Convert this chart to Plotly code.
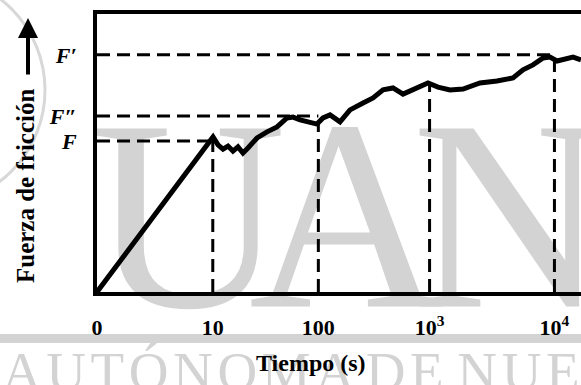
import numpy as np
import plotly.graph_objects as go

# ---- data (x in decades of time, y in arbitrary force units) ----
time_dec = [0, 1.022, 1.066, 1.110, 1.154, 1.198, 1.242, 1.286, 1.330, 1.410,
            1.498, 1.586, 1.674, 1.727, 1.789, 1.877, 1.938, 1.991, 2.053, 2.141,
            2.229, 2.344, 2.432, 2.520, 2.608, 2.696, 2.784, 2.916, 3.004, 3.110,
            3.225, 3.374, 3.524, 3.665, 3.753, 3.841, 3.930, 3.991, 4.053, 4.141,
            4.194, 4.264]
force = [0, 55.8, 52.9, 51.4, 52.5, 50.7, 52.2, 50.0, 51.8, 55.4,
         57.6, 59.4, 62.6, 62.9, 61.9, 61.2, 60.4, 62.6, 63.7, 61.2,
         65.5, 68.0, 69.8, 72.7, 73.4, 71.2, 73.0, 75.2, 73.7, 72.7,
         73.0, 75.2, 75.9, 77.0, 79.9, 81.7, 84.2, 84.5, 83.1, 84.2,
         84.5, 83.5]

tick_pos = [0, 1.02, 1.95, 2.93, 4.03]
tick_labels = ["0", "10", "100", "10<sup>3</sup>", "10<sup>4</sup>"]

F_levels = [54.3, 63.3, 85.3]
F_labels = ["F", "F″", "F′"]
F_level_end_tick = [1, 2, 4]  # index of time tick where each level line ends

W, H = 581, 385
ML, MR, MT, MB = 97, 0, 14, 93
PW, PH = W - ML - MR, H - MT - MB
SERIF = "Liberation Serif"
GRAY = "#d3d3d3"


def px2x(px):
    return (px - ML) / PW


def py2y(py):
    return (H - MB - py) / PH


fig = go.Figure()

dash = "13px,7px"
# horizontal dashed level lines
for lvl, k in zip(F_levels, F_level_end_tick):
    fig.add_trace(go.Scatter(x=[0, tick_pos[k]], y=[lvl, lvl], mode="lines",
                             line=dict(color="black", width=3, dash=dash),
                             hoverinfo="skip", showlegend=False))
# vertical dashed lines at each time tick
for tp in tick_pos[1:]:
    top = float(np.interp(tp, time_dec, force))
    fig.add_trace(go.Scatter(x=[tp, tp], y=[0, top], mode="lines",
                             line=dict(color="black", width=3, dash=dash),
                             hoverinfo="skip", showlegend=False))

# main curve
fig.add_trace(go.Scatter(x=time_dec, y=force, mode="lines",
                         line=dict(color="black", width=5),
                         showlegend=False))

shapes = []
# faint seal arc at top-left
shapes.append(dict(type="circle", xref="paper", yref="paper",
                   x0=px2x(-185), x1=px2x(45), y0=py2y(205), y1=py2y(-25),
                   line=dict(width=3, color="#d8d8d8"), fillcolor="rgba(0,0,0,0)",
                   layer="below"))
# watermark letters (below traces)
for letter, cx in [("U", 188), ("A", 347), ("N", 510)]:
    xc, yc = px2x(cx), py2y(185)
    shapes.append(dict(type="rect", xref="paper", yref="paper",
                       x0=xc - 0.01, x1=xc + 0.01, y0=yc - 0.01, y1=yc + 0.01,
                       line=dict(width=0), fillcolor="rgba(0,0,0,0)", layer="below",
                       label=dict(text=letter, textposition="middle center",
                                  font=dict(family=SERIF, size=272, color=GRAY))))
# gray band
shapes.append(dict(type="rect", xref="paper", yref="paper",
                   x0=px2x(0), x1=px2x(W), y0=py2y(343), y1=py2y(334),
                   line=dict(width=0), fillcolor=GRAY, layer="below"))

annotations = []
hs = "\u200a"
wm_text = " ".join(hs.join(w) for w in ["AUTÓNOMA", "DE", "NUEVO", "LEÓN"])
annotations.append(dict(text=wm_text, xref="paper", yref="paper",
                        x=px2x(0), y=py2y(339), xanchor="left", yanchor="top",
                        showarrow=False,
                        font=dict(family=SERIF, size=55, color=GRAY)))
# axis titles
annotations.append(dict(text="<b>Fuerza de fricción</b>", xref="paper", yref="paper",
                        x=px2x(26), y=py2y(186), textangle=-90,
                        xanchor="center", yanchor="middle", showarrow=False,
                        font=dict(family=SERIF, size=25, color="black")))
annotations.append(dict(text="", xref="paper", yref="paper",
                        x=px2x(28), y=py2y(18), ax=0, ay=58,
                        showarrow=True, arrowhead=2, arrowsize=1, arrowwidth=4,
                        arrowcolor="black"))
annotations.append(dict(text="<b>Tiempo (s)</b>", xref="paper", yref="paper",
                        x=px2x(311), y=py2y(363), xanchor="center", yanchor="middle",
                        showarrow=False,
                        font=dict(family=SERIF, size=24, color="black")))

fig.update_layout(
    width=W, height=H,
    margin=dict(l=ML, r=MR, t=MT, b=MB, pad=0, autoexpand=False),
    paper_bgcolor="white", plot_bgcolor="rgba(0,0,0,0)",
    shapes=shapes, annotations=annotations,
    xaxis=dict(range=[0, 4.264], showgrid=False, zeroline=False, automargin=False,
               showline=True, linecolor="black", linewidth=4, mirror=True,
               tickvals=tick_pos, ticktext=["<b>%s</b>" % t for t in tick_labels],
               ticks="", ticklabelstandoff=13,
               tickfont=dict(family=SERIF, size=22, color="black")),
    yaxis=dict(range=[0, 100], showgrid=False, zeroline=False, automargin=False,
               showline=True, linecolor="black", linewidth=4, mirror=False,
               tickvals=F_levels, ticktext=["<b><i>%s</i></b>" % t for t in F_labels],
               ticks="", ticklabelstandoff=12,
               tickfont=dict(family=SERIF, size=22, color="black")),
)

fig.write_html("out.html", config={"displayModeBar": False},
               post_script="document.body.style.margin='0';document.body.style.overflow='hidden';")
